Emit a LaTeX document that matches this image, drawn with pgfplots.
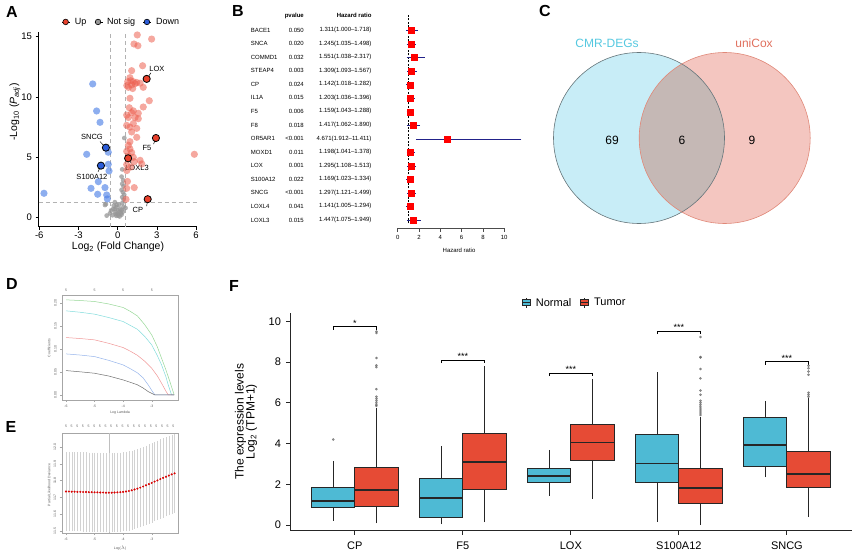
\documentclass[border=0pt]{standalone}
\usepackage{fontspec}
\setmainfont{Liberation Sans}
\usepackage{pgfplots}
\pgfplotsset{compat=1.18}
\usepgfplotslibrary{statistics}
\pgfplotsset{/pgf/number format/assume math mode=true}
\newcommand{\fsz}[1]{\fontsize{#1}{#1}\selectfont}

\definecolor{upc}{RGB}{236,96,80}
\definecolor{downc}{RGB}{80,130,230}
\definecolor{nsc}{RGB}{150,150,150}
\definecolor{labr}{RGB}{232,65,44}
\definecolor{labb}{RGB}{43,92,216}
\definecolor{normalc}{RGB}{78,186,212}
\definecolor{tumorc}{RGB}{230,75,53}
\definecolor{vleft}{RGB}{200,237,247}
\definecolor{vright}{RGB}{244,198,192}
\definecolor{vmid}{RGB}{197,184,181}
\definecolor{vleftedge}{RGB}{102,118,123}
\definecolor{vrightedge}{RGB}{224,136,120}
\definecolor{vlabl}{RGB}{85,200,224}
\definecolor{vlabr}{RGB}{224,112,94}
\definecolor{navyc}{RGB}{34,34,138}
\definecolor{dgreen}{RGB}{150,215,150}
\definecolor{dcyan}{RGB}{130,220,220}
\definecolor{dred}{RGB}{240,150,150}
\definecolor{dblue}{RGB}{150,180,235}
\definecolor{dblack}{RGB}{110,110,110}

\begin{document}
\begin{tikzpicture}[x=1pt,y=1pt]
\path (0,0) rectangle (858,558);

% panel letters
\foreach \l/\px/\py in {A/12/12,B/238/11,C/545/11,D/12/284,E/11/427,F/234/286}
  \node[font=\fsz{16}\bfseries] at (\px,{558-\py}) {\l};

% ---------------- A: volcano ----------------
\begin{axis}[at={(38.5pt,331.3pt)}, anchor=south west, scale only axis,
  width=158.2pt, height=195pt,
  xmin=-6.06, xmax=6.05, ymin=-0.75, ymax=15.41,
  axis lines=left, axis line style={-, black, line width=0.6pt},
  xtick={-6,-3,0,3,6}, ytick={0,5,10,15},
  tick align=outside, major tick length=3pt, tick style={black, line width=0.6pt},
  ticklabel style={font=\fsz{9.5}},
  xticklabel style={yshift=1.5pt},
  clip=false, legend columns=3,
  legend style={at={(0.525,1.05)}, anchor=center, draw=none, fill=none,
    font=\fsz{9}, inner sep=0pt,
    /tikz/every odd column/.append style={column sep=2.5pt},
    /tikz/every even column/.append style={column sep=6pt}},
  legend image code/.code={\path (0pt,0pt) -- (8pt,0pt);
    \draw[#1] plot coordinates {(3.5pt,0pt)};}]
\addlegendimage{only marks, mark=*, mark size=2.8pt, mark options={fill=labr, draw=black, line width=0.6pt}}
\addlegendentry{Up}
\addlegendimage{only marks, mark=*, mark size=2.8pt, mark options={fill=nsc, draw=black, line width=0.6pt}}
\addlegendentry{Not sig}
\addlegendimage{only marks, mark=*, mark size=2.8pt, mark options={fill=labb, draw=black, line width=0.6pt}}
\addlegendentry{Down}
\addplot[forget plot, gray!60, line width=0.8pt, dash pattern=on 4pt off 3pt] coordinates {(-0.585,-0.75) (-0.585,15.41)};
\addplot[forget plot, gray!60, line width=0.8pt, dash pattern=on 4pt off 3pt] coordinates {(0.585,-0.75) (0.585,15.41)};
\addplot[forget plot, gray!60, line width=0.8pt, dash pattern=on 4pt off 3pt] coordinates {(-6.06,1.301) (6.05,1.301)};
% not significant
\addplot[forget plot, only marks, mark=*, mark size=2.4pt, color=nsc, mark options={draw opacity=0, fill opacity=0.75}] coordinates {
(0.51,6.6) (0.35,4.0) (0.30,3.4) (0.42,3.1) (0.35,2.8) (0.45,2.6) (0.30,2.3) (0.40,2.1)
(0.50,1.9) (0.35,1.7) (0.45,1.5) (-0.90,1.13) (-0.30,1.0) (0.10,1.05) (-0.10,0.85)
(0.20,0.7) (-0.50,0.6) (0.40,0.5) (-0.20,0.45) (0.00,0.3) (0.30,0.25) (-0.40,0.2)
(-0.10,0.15) (0.15,0.1) (0.45,0.9) (-0.60,0.35) (0.60,0.8) (-0.20,0.7) (0.05,0.6)
(0.25,0.35) (-0.15,0.28) (-0.84,0.17) (0.05,0.17) (-0.34,0.72) (0.31,0.64) (-0.08,1.05)
(-0.21,1.28) (-0.97,1.05) (0.35,1.2) (0.10,0.45)};
% up
\addplot[forget plot, only marks, mark=*, mark size=3.6pt, color=upc, mark options={draw opacity=0, fill opacity=0.55}] coordinates {
(1.50,15.14) (2.60,14.8) (1.25,14.39) (1.55,14.25) (1.91,12.59) (1.07,12.18)
(0.94,11.6) (0.77,11.27) (1.20,11.27) (1.33,11.1) (1.07,11.0) (1.46,11.2) (1.72,11.15)
(0.70,10.95) (1.96,10.8) (0.82,10.8) (1.15,10.7) (1.00,11.35)
(2.42,9.69) (0.94,9.89) (1.96,9.17) (0.89,9.11) (1.20,8.85) (1.07,8.7) (0.69,8.5)
(1.58,8.65) (0.82,8.3) (1.33,8.3) (1.58,8.2) (1.20,7.8) (0.94,7.5) (0.69,7.65)
(1.46,7.4) (1.07,7.1) (1.46,6.66) (0.94,6.3) (0.82,6.0) (0.94,5.7) (0.69,5.5)
(1.07,5.4) (0.82,5.1) (1.20,5.0) (1.72,4.75) (1.85,4.45) (0.69,4.4) (1.27,4.64)
(1.00,4.2) (0.70,3.9) (5.87,5.25) (0.69,2.43) (1.27,2.49) (0.64,1.52) (0.75,3.0)};
% down
\addplot[forget plot, only marks, mark=*, mark size=3.6pt, color=downc, mark options={draw opacity=0, fill opacity=0.65}] coordinates {
(-1.91,11.08) (-1.61,8.84) (-1.35,7.90) (-2.37,5.25) (-0.72,5.42) (-0.72,4.42)
(-0.66,3.87) (-1.48,2.98) (-0.97,2.49) (-2.04,2.43) (-1.53,1.94) (-0.84,1.88)
(-5.64,2.02) (-0.79,1.55)};
% labelled genes
\addplot[forget plot, only marks, mark=*, mark size=3.6pt, mark options={fill=labr, draw=black, line width=0.8pt}] coordinates {(2.22,11.5) (2.93,6.6) (0.80,4.92) (2.30,1.53)};
\addplot[forget plot, only marks, mark=*, mark size=3.6pt, mark options={fill=labb, draw=black, line width=0.8pt}] coordinates {(-0.90,5.8) (-1.28,4.31)};
\draw[line width=0.5pt] (axis cs:2.22,11.5) -- (axis cs:2.55,12.0);
\draw[line width=0.5pt] (axis cs:2.93,6.6) -- (axis cs:2.75,6.1);
\draw[line width=0.5pt] (axis cs:-0.90,5.8) -- (axis cs:-1.35,6.3);
\draw[line width=0.5pt] (axis cs:-1.28,4.31) -- (axis cs:-1.50,3.8);
\draw[line width=0.5pt] (axis cs:0.80,4.92) -- (axis cs:1.05,4.5);
\draw[line width=0.5pt] (axis cs:2.30,1.53) -- (axis cs:2.22,0.95);
\node[font=\fsz{7.5}] at (axis cs:3.0,12.3) {LOX};
\node[font=\fsz{7.5}] at (axis cs:2.24,5.77) {F5};
\node[font=\fsz{7.5}] at (axis cs:-1.97,6.69) {SNCG};
\node[font=\fsz{7.5}] at (axis cs:-1.97,3.37) {S100A12};
\node[font=\fsz{7.5}] at (axis cs:1.48,4.12) {LOXL3};
\node[font=\fsz{7.5}] at (axis cs:1.55,0.64) {CP};
\end{axis}
\node[font=\fsz{10.5}, rotate=90] at (15,{558-112}) {-Log\textsubscript{10} (\textit{P}\textsubscript{\textit{adj}})};
\node[font=\fsz{10.5}] at (118,{558-247}) {Log\textsubscript{2} (Fold Change)};

% ---------------- B: forest plot ----------------
\node[font=\fsz{6}\bfseries, anchor=east] at (307.3,{558-15.7}) {pvalue};
\node[font=\fsz{6}\bfseries, anchor=east] at (375,{558-15.7}) {Hazard ratio};
\foreach \g/\p/\h [count=\i from 0] in {
  BACE1/0.050/1.311(1.000--1.718), SNCA/0.020/1.245(1.035--1.498),
  COMMD1/0.032/1.551(1.038--2.317), STEAP4/0.003/1.309(1.093--1.567),
  CP/0.024/1.142(1.018--1.282), IL1A/0.015/1.203(1.036--1.396),
  F5/0.006/1.159(1.043--1.288), F8/0.018/1.417(1.062--1.890),
  OR5AR1/<0.001/4.671(1.912--11.411), MOXD1/0.011/1.198(1.041--1.378),
  LOX/0.001/1.295(1.108--1.513), S100A12/0.022/1.169(1.023--1.334),
  SNCG/<0.001/1.297(1.121--1.499), LOXL4/0.041/1.141(1.005--1.294),
  LOXL3/0.015/1.447(1.075--1.949)} {
  \node[font=\fsz{6}, anchor=west] at (247.3,{558-30-\i*13.57}) {\g};
  \node[font=\fsz{6}, anchor=east] at (307.3,{558-30-\i*13.57}) {\p};
  \node[font=\fsz{6}, anchor=east] at (375,{558-30-\i*13.57}) {\h};
}
\begin{axis}[at={(397.7pt,329.7pt)}, anchor=south west, scale only axis,
  width=122.5pt, height=215.3pt,
  xmin=0, xmax=11.5, ymin=0.39, ymax=16.3,
  axis y line=none, axis x line*=bottom, x axis line style={draw=none},
  xtick={0,2,4,6,8,10}, tick align=outside, major tick length=3.5pt,
  xtick style={black!70, line width=0.5pt},
  xticklabel style={font=\fsz{6}}, clip=false]
\addplot[black!70, line width=0.5pt] coordinates {(0,0.39) (10,0.39)};
\addplot[black, line width=0.5pt, dash pattern=on 2pt off 1.5pt] coordinates {(1,0.75) (1,16.25)};
\addplot[only marks, mark=square*, mark size=3pt, color=red,
  error bars/.cd, x dir=both, x explicit,
  error bar style={navyc, line width=0.7pt},
  error mark options={navyc, mark size=2.2pt, line width=0.7pt}] coordinates {
(1.311,15) += (0.407,0) -= (0.311,0)
(1.245,14) += (0.253,0) -= (0.210,0)
(1.551,13) += (0.766,0) -= (0.513,0)
(1.309,12) += (0.258,0) -= (0.216,0)
(1.142,11) += (0.140,0) -= (0.124,0)
(1.203,10) += (0.193,0) -= (0.167,0)
(1.159,9) += (0.129,0) -= (0.116,0)
(1.417,8) += (0.473,0) -= (0.355,0)
(4.671,7) += (6.740,0) -= (2.759,0)
(1.198,6) += (0.180,0) -= (0.157,0)
(1.295,5) += (0.218,0) -= (0.187,0)
(1.169,4) += (0.165,0) -= (0.146,0)
(1.297,3) += (0.202,0) -= (0.176,0)
(1.141,2) += (0.153,0) -= (0.136,0)
(1.447,1) += (0.502,0) -= (0.372,0)};
\end{axis}
\node[font=\fsz{6}] at (459,{558-250}) {Hazard ratio};

% ---------------- C: Venn ----------------
\begin{axis}[at={(540pt,320pt)}, anchor=south west, scale only axis,
  width=290pt, height=200pt, xmin=540, xmax=830, ymin=320, ymax=520,
  hide axis, clip=false]
\fill[vleft] (axis cs:639,420) circle[radius=85.5];
\fill[vright] (axis cs:724.7,420) circle[radius=85.5];
\begin{scope}
\clip (axis cs:639,420) circle[radius=85.5];
\fill[vmid] (axis cs:724.7,420) circle[radius=85.5];
\end{scope}
\draw[vleftedge, line width=0.6pt] (axis cs:639,420) circle[radius=85.5];
\draw[vrightedge, line width=0.6pt] (axis cs:724.7,420) circle[radius=85.5];
\node[font=\fsz{12}, text=vlabl] at (axis cs:607,515) {CMR-DEGs};
\node[font=\fsz{12}, text=vlabr] at (axis cs:754,515) {uniCox};
\node[font=\fsz{12}] at (axis cs:612,418) {69};
\node[font=\fsz{12}] at (axis cs:682,418) {6};
\node[font=\fsz{12}] at (axis cs:752,418) {9};
\end{axis}

% ---------------- D: lasso paths ----------------
\begin{axis}[at={(62.3pt,158pt)}, anchor=south west, scale only axis,
  width=115.4pt, height=105pt,
  xmin=-6.13, xmax=-2.09, ymin=-0.011, ymax=0.217,
  axis line style={gray!70, line width=0.4pt},
  tick style={gray!70, line width=0.3pt}, tick align=outside, major tick length=2pt,
  xtick pos=bottom, ytick pos=left,
  xtick={-6,-5,-4,-3}, ytick={0,0.05,0.1,0.15,0.2},
  ticklabel style={font=\fsz{3.5}, text=gray!70!black},
  yticklabel style={rotate=90, anchor=south, /pgf/number format/.cd, fixed, fixed zerofill, precision=2}]
\addplot[dgreen, line width=0.5pt] coordinates {(-6.0,0.2065) (-5.5,0.2050) (-5.0,0.2029) (-4.5,0.1975) (-4.0,0.1899) (-3.75,0.1815) (-3.5,0.1715) (-3.25,0.1530) (-3.0,0.1304) (-2.8,0.1040) (-2.655,0.0797) (-2.5,0.0540) (-2.364,0.0290) (-2.213,0.0)};
\addplot[dcyan, line width=0.5pt] coordinates {(-6.0,0.1826) (-5.5,0.1795) (-5.0,0.1754) (-4.5,0.1680) (-4.0,0.1594) (-3.75,0.1510) (-3.5,0.1425) (-3.25,0.1275) (-3.0,0.1087) (-2.8,0.0850) (-2.655,0.0652) (-2.5,0.0390) (-2.422,0.0217) (-2.305,0.0) (-2.213,0.0)};
\addplot[dred, line width=0.5pt] coordinates {(-6.0,0.1246) (-5.5,0.1225) (-5.0,0.1196) (-4.5,0.1120) (-4.0,0.1029) (-3.75,0.0950) (-3.5,0.0860) (-3.25,0.0735) (-3.0,0.0580) (-2.8,0.0410) (-2.655,0.0254) (-2.5,0.0080) (-2.422,0.0) (-2.213,0.0)};
\addplot[dblue, line width=0.5pt] coordinates {(-6.0,0.0891) (-5.5,0.0866) (-5.0,0.0833) (-4.5,0.0750) (-4.0,0.0652) (-3.75,0.0570) (-3.5,0.0480) (-3.3,0.0370) (-3.121,0.0217) (-3.0,0.0100) (-2.888,0.0) (-2.213,0.0)};
\addplot[dblack, line width=0.5pt] coordinates {(-6.0,0.0529) (-5.5,0.0502) (-5.0,0.0471) (-4.5,0.0410) (-4.0,0.0326) (-3.75,0.0275) (-3.5,0.0220) (-3.3,0.0150) (-3.121,0.0072) (-2.888,0.0) (-2.213,0.0)};
\end{axis}
\foreach \px in {66,94.6,123.2,151.8}
  \node[font=\fsz{3.5}, text=gray!70!black] at (\px,{558-290}) {5};
\node[font=\fsz{3.5}, rotate=90, text=gray!70!black] at (49,{558-348}) {Coefficients};
\node[font=\fsz{3.5}, text=gray!70!black] at (120,{558-413}) {Log Lambda};

% ---------------- E: cross-validation ----------------
\begin{axis}[at={(61.7pt,25pt)}, anchor=south west, scale only axis,
  width=116pt, height=100.3pt,
  xmin=-6.15, xmax=-2.09, ymin=11.488, ymax=12.085,
  axis line style={gray!70, line width=0.4pt},
  tick style={gray!70, line width=0.3pt}, tick align=outside, major tick length=2pt,
  xtick pos=bottom, ytick pos=left,
  xtick={-6,-5,-4,-3}, ytick={11.5,11.6,11.7,11.8,11.9,12.0},
  ticklabel style={font=\fsz{3.5}, text=gray!70!black},
  yticklabel style={rotate=90, anchor=south, /pgf/number format/.cd, fixed, fixed zerofill, precision=1}]
\addplot[gray!50, line width=0.3pt] coordinates {(-4.5,11.488) (-4.5,12.085)};
\addplot[only marks, mark=*, mark size=0.8pt, color=red!85!black,
  error bars/.cd, y dir=both, y fixed=0.23,
  error bar style={gray!35, line width=0.25pt},
  error mark options={gray!35, mark size=1pt, line width=0.25pt}] coordinates {
(-6.0,11.735) (-5.9,11.735) (-5.8,11.734) (-5.7,11.734) (-5.6,11.733) (-5.5,11.733)
(-5.4,11.732) (-5.3,11.732) (-5.2,11.731) (-5.1,11.731) (-5.0,11.730) (-4.9,11.730)
(-4.8,11.729) (-4.7,11.729) (-4.6,11.728) (-4.5,11.728) (-4.4,11.728) (-4.3,11.729)
(-4.2,11.730) (-4.1,11.731) (-4.0,11.733) (-3.9,11.735) (-3.8,11.738) (-3.7,11.742)
(-3.6,11.747) (-3.5,11.752) (-3.4,11.758) (-3.3,11.765) (-3.2,11.772) (-3.1,11.779)
(-3.0,11.786) (-2.9,11.794) (-2.8,11.801) (-2.7,11.809) (-2.6,11.816) (-2.5,11.823)
(-2.4,11.830) (-2.3,11.837) (-2.2,11.843)};
\end{axis}
\foreach \i in {0,...,19}
  \node[font=\fsz{3.5}, text=gray!70!black] at ({66+\i*5.65},{558-426}) {5};
\node[font=\fsz{3.5}, rotate=90, text=gray!70!black] at (49,{558-485}) {Partial Likelihood Deviance};
\node[font=\fsz{3.5}, text=gray!70!black] at (120,{558-548}) {Log($\lambda$)};

% ---------------- F: boxplots ----------------
\begin{axis}[at={(290pt,27.3pt)}, anchor=south west, scale only axis,
  width=561.7pt, height=217.7pt,
  xmin=0.4, xmax=5.6, ymin=-0.28, ymax=10.41,
  axis lines=left, axis line style={-, black!85, line width=0.9pt},
  xtick={1,2,3,4,5}, xticklabels={CP,F5,LOX,S100A12,SNCG},
  ytick={0,2,4,6,8,10},
  tick align=outside, major tick length=4pt, tick style={black!85, line width=0.8pt},
  ticklabel style={font=\fsz{11}},
  xticklabel style={yshift=-3.5pt}, yticklabel style={xshift=-1.5pt},
  boxplot/draw direction=y,
  boxplot/every median/.style={line width=1.8pt},
  clip=false, legend columns=2,
  legend style={at={(0.507,1.047)}, anchor=center, draw=none, fill=none,
    font=\fsz{11}, inner sep=0pt,
    /tikz/every odd column/.append style={column sep=3pt},
    /tikz/every even column/.append style={column sep=7pt}},
  legend image code/.code={
    \draw[#1] (0pt,-3pt) rectangle (8pt,3pt);
    \draw[#1] (0pt,0pt) -- (8pt,0pt);
    \draw[#1] (4pt,3pt) -- (4pt,5pt) (4pt,-3pt) -- (4pt,-5pt);}]
\addlegendimage{fill=normalc, draw=black!85, line width=0.8pt}
\addlegendentry{Normal}
\addlegendimage{fill=tumorc, draw=black!85, line width=0.8pt}
\addlegendentry{Tumor}
% Normal
\addplot[forget plot, fill=normalc, draw=black!85, line width=0.9pt, boxplot prepared={draw position=0.8, box extend=0.4, whisker extend=0, lower whisker=0.21, lower quartile=0.85, median=1.18, upper quartile=1.84, upper whisker=3.15}] coordinates {};
\addplot[forget plot, fill=normalc, draw=black!85, line width=0.9pt, boxplot prepared={draw position=1.8, box extend=0.4, whisker extend=0, lower whisker=0.03, lower quartile=0.38, median=1.33, upper quartile=2.31, upper whisker=3.89}] coordinates {};
\addplot[forget plot, fill=normalc, draw=black!85, line width=0.9pt, boxplot prepared={draw position=2.8, box extend=0.4, whisker extend=0, lower whisker=1.43, lower quartile=2.11, median=2.42, upper quartile=2.78, upper whisker=3.69}] coordinates {};
\addplot[forget plot, fill=normalc, draw=black!85, line width=0.9pt, boxplot prepared={draw position=3.8, box extend=0.4, whisker extend=0, lower whisker=0.16, lower quartile=2.11, median=3.02, upper quartile=4.43, upper whisker=7.49}] coordinates {};
\addplot[forget plot, fill=normalc, draw=black!85, line width=0.9pt, boxplot prepared={draw position=4.8, box extend=0.4, whisker extend=0, lower whisker=2.34, lower quartile=2.87, median=3.92, upper quartile=5.28, upper whisker=6.10}] coordinates {};
% Tumor
\addplot[forget plot, fill=tumorc, draw=black!85, line width=0.9pt, boxplot prepared={draw position=1.2, box extend=0.4, whisker extend=0, lower whisker=0.08, lower quartile=0.93, median=1.70, upper quartile=2.85, upper whisker=5.74}] coordinates {};
\addplot[forget plot, fill=tumorc, draw=black!85, line width=0.9pt, boxplot prepared={draw position=2.2, box extend=0.4, whisker extend=0, lower whisker=0.13, lower quartile=1.74, median=3.11, upper quartile=4.48, upper whisker=7.82}] coordinates {};
\addplot[forget plot, fill=tumorc, draw=black!85, line width=0.9pt, boxplot prepared={draw position=3.2, box extend=0.4, whisker extend=0, lower whisker=1.28, lower quartile=3.15, median=4.05, upper quartile=4.93, upper whisker=7.18}] coordinates {};
\addplot[forget plot, fill=tumorc, draw=black!85, line width=0.9pt, boxplot prepared={draw position=4.2, box extend=0.4, whisker extend=0, lower whisker=0.0, lower quartile=1.07, median=1.82, upper quartile=2.77, upper whisker=5.30}] coordinates {};
\addplot[forget plot, fill=tumorc, draw=black!85, line width=0.9pt, boxplot prepared={draw position=5.2, box extend=0.4, whisker extend=0, lower whisker=0.39, lower quartile=1.84, median=2.52, upper quartile=3.61, upper whisker=6.23}] coordinates {};
% outliers
\addplot[forget plot, only marks, mark=*, mark size=1.1pt, color=gray!80!black, mark options={fill opacity=0.7, draw opacity=0.7}] coordinates {
(0.8,4.2)
(1.2,5.85) (1.2,5.9) (1.2,6.0) (1.2,6.1) (1.2,6.2) (1.2,6.3) (1.2,6.67) (1.2,7.75) (1.2,7.84) (1.2,8.2) (1.2,9.43) (1.2,9.5)
(4.2,5.4) (4.2,5.5) (4.2,5.6) (4.2,5.7) (4.2,5.8) (4.2,5.9) (4.2,6.0) (4.2,6.1) (4.2,6.4) (4.2,6.6) (4.2,7.2) (4.2,7.66) (4.2,8.23) (4.2,8.25) (4.2,9.23)
(5.2,6.3) (5.2,6.4) (5.2,6.5) (5.2,7.38) (5.2,7.54) (5.2,7.7) (5.2,7.82)};
% significance brackets
\addplot[forget plot, black, line width=0.7pt] coordinates {(0.8,9.59) (0.8,9.74) (1.2,9.74) (1.2,9.59)};
\addplot[forget plot, black, line width=0.7pt] coordinates {(1.8,7.95) (1.8,8.10) (2.2,8.10) (2.2,7.95)};
\addplot[forget plot, black, line width=0.7pt] coordinates {(2.8,7.31) (2.8,7.46) (3.2,7.46) (3.2,7.31)};
\addplot[forget plot, black, line width=0.7pt] coordinates {(3.8,9.37) (3.8,9.52) (4.2,9.52) (4.2,9.37)};
\addplot[forget plot, black, line width=0.7pt] coordinates {(4.8,7.88) (4.8,8.03) (5.2,8.03) (5.2,7.88)};
\node[font=\fsz{9}, anchor=south, inner sep=0pt] at (axis cs:1,9.74) {*};
\node[font=\fsz{9}, anchor=south, inner sep=0pt] at (axis cs:2,8.10) {***};
\node[font=\fsz{9}, anchor=south, inner sep=0pt] at (axis cs:3,7.46) {***};
\node[font=\fsz{9}, anchor=south, inner sep=0pt] at (axis cs:4,9.52) {***};
\node[font=\fsz{9}, anchor=south, inner sep=0pt] at (axis cs:5,8.03) {***};
\end{axis}
\node[font=\fsz{12}, rotate=90, align=center] at (245.9,{558-421.7}) {The expression levels\\[-1pt]Log\textsubscript{2} (TPM+1)};

\pgfresetboundingbox
\useasboundingbox (0,0) rectangle (858,558);
\end{tikzpicture}
\end{document}
